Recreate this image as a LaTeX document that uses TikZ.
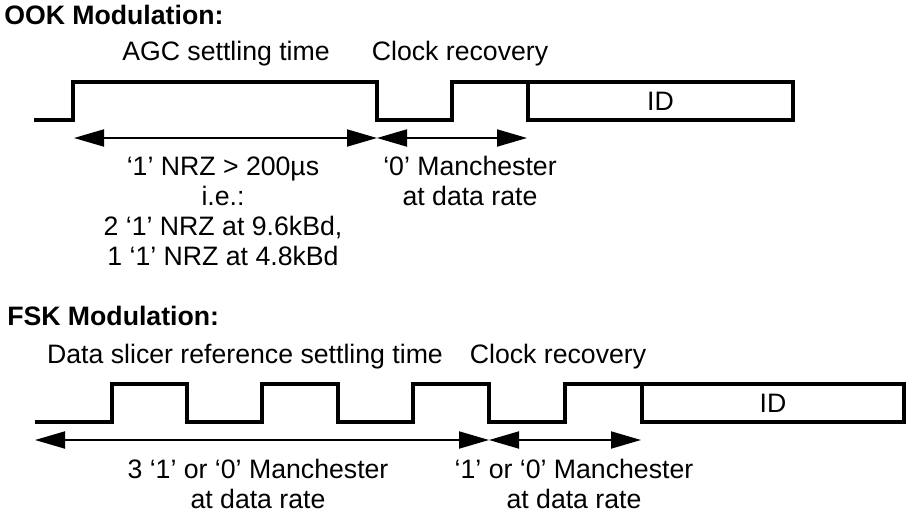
\documentclass[tikz,border=0pt]{standalone}
\usepackage{fontspec}
\setmainfont{Liberation Sans}
\usetikzlibrary{arrows.meta,positioning}

\begin{document}
\begin{tikzpicture}[
  x=0.75pt,y=-0.75pt,
  font=\fontsize{20}{22.5}\selectfont,
  wave/.style={line width=2.4pt,line join=miter},
  idbox/.style={draw,line width=2.4pt,inner sep=0pt,outer sep=0pt,minimum height=28.5pt},
  span/.style={{Triangle[length=22.5pt,width=12.75pt]}-{Triangle[length=22.5pt,width=12.75pt]},line width=1.4pt},
  heading/.style={font=\fontsize{20}{22.5}\selectfont\bfseries,anchor=base west,inner sep=0pt},
  phase/.style={anchor=base,inner sep=0pt},
  note/.style={align=center,anchor=base,inner sep=0pt}]
  \useasboundingbox (0,0) rectangle (906,514);
  % OOK
  \node[heading] (ookhead) at (4,24) {OOK Modulation:};
  \node[phase] (agc) at (226,60) {AGC settling time};
  \node[phase] (ookclk) at (460,60) {Clock recovery};
  \node[idbox,minimum width=198.75pt] (ookid) at (660.5,101) {ID};
  \draw[wave] (34,120) -- (73,120) -- (73,82) -- (377,82) -- (377,120) -- (452,120) -- (452,82) -- (ookid.north west);
  \coordinate (a0) at (74,138);
  \coordinate (a1) at (377,138);
  \coordinate (a2) at (527,138);
  \draw[span] (a0) -- (a1);
  \draw[span] (a1) -- (a2);
  % base = last line of the note
  \node[note] (nrz) at (223,265) {‘1’ NRZ > 200µs\\i.e.:\\2 ‘1’ NRZ at 9.6kBd,\\1 ‘1’ NRZ at 4.8kBd};
  \node[note] (ookman) at (470,205) {‘0’ Manchester\\at data rate};
  % FSK
  \node[heading] (fskhead) at (7,325) {FSK Modulation:};
  \node[phase] (slicer) at (245,363) {Data slicer reference settling time};
  \node[phase] (fskclk) at (558,363) {Clock recovery};
  \node[idbox,minimum width=196.5pt] (fskid) at (773,403) {ID};
  \draw[wave] (35,422) -- (112,422) -- (112,384) -- (187,384) -- (187,422) -- (262,422) -- (262,384) -- (338,384) -- (338,422)
    -- (413,422) -- (413,384) -- (489,384) -- (489,422) -- (565,422) -- (565,384) -- (fskid.north west);
  \coordinate (b0) at (35,440);
  \coordinate (b1) at (489,440);
  \coordinate (b2) at (641,440);
  \draw[span] (b0) -- (b1);
  \draw[span] (b1) -- (b2);
  \node[note] (fskman3) at (258,508) {3 ‘1’ or ‘0’ Manchester\\at data rate};
  \node[note] (fskman) at (574,508) {‘1’ or ‘0’ Manchester\\at data rate};
\end{tikzpicture}
\end{document}
